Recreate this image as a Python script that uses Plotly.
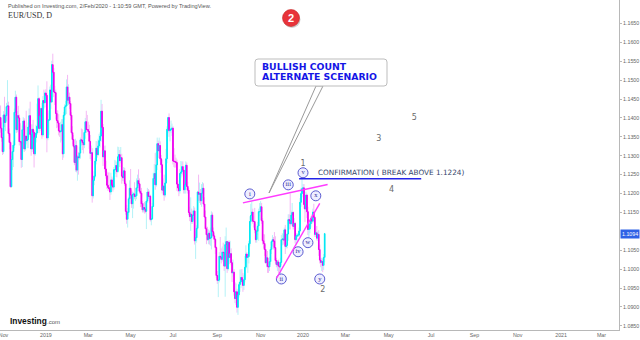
import numpy as np
import pandas as pd
import plotly.graph_objects as go

# EUR/USD daily bars from 29 Oct 2018 to 31 Jan 2020, quoted in pips (price x 10000)
opens = [
    11401, 11373, 11348,
    11311, 11408, 11388, 11406, 11430, 11432, 11359, 11335, 11218, 11290, 11311, 11328, 11415, 11455, 11369, 11406, 11400, 11337, 11337, 11290, 11369, 11392,
    11318, 11352, 11340, 11343, 11376, 11406, 11356, 11318, 11370, 11362, 11305, 11348, 11360, 11378, 11451, 11372, 11405, 11425, 11355, 11446, 11440,
    11466, 11460, 11347, 11393, 11395, 11474, 11442, 11541, 11521, 11469, 11467, 11412, 11393, 11387, 11366, 11363, 11365, 11382, 11305, 11407, 11429, 11432, 11482,
    11447, 11455, 11438, 11407, 11361, 11343, 11325, 11282, 11327, 11262, 11297, 11295, 11307, 11342, 11341, 11335, 11329, 11362, 11390, 11369,
    11369, 11364, 11338, 11306, 11308, 11194, 11235, 11246, 11286, 11320, 11303, 11326, 11340, 11352, 11418, 11375, 11297, 11313, 11265, 11247, 11222,
    11216, 11213, 11204, 11236, 11222, 11217, 11263, 11263, 11274, 11258, 11297, 11303, 11287, 11295, 11246, 11242, 11260, 11226, 11153, 11132, 11150, 11186,
    11214, 11196, 11173, 11198, 11199, 11192, 11194, 11215, 11234, 11226, 11206, 11201, 11173, 11157, 11163, 11159, 11153, 11180, 11204, 11192, 11193, 11131, 11133,
    11166, 11240, 11253, 11223, 11276, 11332, 11313, 11327, 11292, 11276, 11209, 11220, 11196, 11228, 11292, 11370, 11401, 11366, 11368, 11371,
    11373, 11286, 11285, 11284, 11282, 11225, 11215, 11207, 11253, 11257, 11271, 11262, 11210, 11223, 11275, 11219, 11209, 11150, 11139, 11145, 11126, 11142, 11154,
    11075, 11083, 11108, 11204, 11198, 11200, 11181, 11201, 11214, 11172, 11138, 11107, 11091, 11078, 11095, 11081, 11083, 11143, 11099, 11088, 11079, 11057,
    10983, 10970, 10971, 11034, 11032, 11026, 11045, 11044, 11008, 11065, 11073, 11001, 11071, 11031, 11041, 11017, 10990, 10992, 10940, 10922, 10940,
    10899, 10932, 10959, 10966, 10978, 10971, 10957, 10972, 11005, 11040, 11031, 11033, 11067, 11126, 11142, 11151, 11127, 11126, 11104, 11078, 11100, 11114, 11152,
    11152, 11165, 11128, 11075, 11068, 11052, 11017, 11030, 11007, 11006, 11020, 11052, 11073, 11078, 11074, 11057, 11023, 11012, 11019, 11008, 11006,
    11018, 11078, 11080, 11077, 11104, 11060, 11063, 11093, 11131, 11129, 11120, 11143, 11150, 11113, 11121, 11078, 11087, 11090, 11090, 11101, 11177, 11200,
    11213, 11215, 11171, 11159, 11196, 11152, 11105, 11106, 11120, 11134, 11127, 11151, 11137, 11092, 11096, 11082, 11092, 11052, 11024, 11018, 11020, 11010, 11031,
]
highs = [
    11433, 11388, 11360,
    11418, 11456, 11412, 11440, 11500, 11443, 11372, 11340, 11300, 11328, 11340, 11425, 11472, 11462, 11418, 11432, 11409, 11386, 11340, 11380, 11402, 11399,
    11380, 11419, 11360, 11388, 11425, 11443, 11383, 11383, 11395, 11368, 11350, 11382, 11438, 11486, 11455, 11420, 11430, 11440, 11458, 11475, 11470,
    11476, 11497, 11413, 11420, 11483, 11488, 11551, 11570, 11532, 11485, 11475, 11420, 11420, 11410, 11380, 11390, 11397, 11397, 11416, 11436, 11445, 11502, 11514,
    11489, 11467, 11445, 11415, 11378, 11355, 11330, 11345, 11340, 11302, 11310, 11324, 11348, 11372, 11370, 11359, 11368, 11400, 11419, 11408,
    11390, 11382, 11355, 11327, 11320, 11248, 11259, 11295, 11339, 11338, 11345, 11358, 11362, 11448, 11437, 11384, 11325, 11327, 11287, 11258, 11255,
    11256, 11225, 11255, 11245, 11240, 11270, 11289, 11287, 11284, 11324, 11323, 11315, 11323, 11305, 11257, 11270, 11268, 11232, 11170, 11162, 11191, 11235,
    11265, 11209, 11205, 11203, 11230, 11215, 11240, 11250, 11264, 11240, 11225, 11215, 11180, 11175, 11178, 11175, 11185, 11215, 11212, 11208, 11197, 11145, 11175,
    11255, 11278, 11307, 11310, 11348, 11340, 11348, 11338, 11302, 11290, 11240, 11250, 11235, 11318, 11378, 11403, 11412, 11380, 11393, 11385,
    11378, 11320, 11303, 11295, 11290, 11235, 11225, 11265, 11286, 11285, 11285, 11273, 11232, 11285, 11282, 11231, 11215, 11165, 11190, 11160, 11155, 11167, 11163,
    11100, 11116, 11207, 11250, 11229, 11212, 11225, 11230, 11227, 11190, 11155, 11112, 11112, 11105, 11102, 11110, 11153, 11150, 11110, 11095, 11082, 11060,
    10995, 10986, 11045, 11085, 11055, 11060, 11070, 11055, 11087, 11110, 11075, 11075, 11076, 11075, 11055, 11025, 11025, 11000, 10965, 10962, 10948,
    10943, 10965, 10999, 10999, 11000, 10990, 10985, 11035, 11063, 11045, 11040, 11075, 11140, 11173, 11179, 11160, 11140, 11162, 11120, 11110, 11125, 11160, 11175,
    11180, 11175, 11135, 11093, 11092, 11065, 11038, 11048, 11020, 11032, 11058, 11075, 11090, 11085, 11098, 11087, 11030, 11024, 11025, 11018, 11030,
    11090, 11095, 11092, 11110, 11117, 11072, 11095, 11145, 11145, 11200, 11155, 11175, 11153, 11135, 11125, 11095, 11095, 11095, 11110, 11188, 11215, 11239,
    11225, 11225, 11180, 11205, 11200, 11165, 11112, 11125, 11140, 11145, 11160, 11173, 11140, 11103, 11114, 11100, 11103, 11065, 11030, 11030, 11028, 11040, 11096,
]
lows = [
    11361, 11337, 11302,
    11305, 11376, 11365, 11392, 11410, 11353, 11317, 11216, 11216, 11262, 11270, 11320, 11395, 11360, 11362, 11390, 11327, 11330, 11268, 11270, 11351, 11310,
    11313, 11330, 11320, 11320, 11365, 11350, 11300, 11310, 11355, 11269, 11300, 11335, 11355, 11370, 11360, 11365, 11398, 11345, 11350, 11425, 11428,
    11450, 11309, 11341, 11355, 11393, 11424, 11440, 11486, 11455, 11434, 11396, 11373, 11375, 11354, 11350, 11335, 11340, 11289, 11295, 11395, 11410, 11410, 11440,
    11434, 11424, 11395, 11356, 11330, 11320, 11275, 11258, 11256, 11234, 11250, 11290, 11292, 11327, 11315, 11306, 11320, 11345, 11360, 11363,
    11354, 11318, 11291, 11286, 11176, 11187, 11222, 11240, 11277, 11295, 11300, 11320, 11322, 11337, 11358, 11273, 11285, 11256, 11239, 11212, 11207,
    11208, 11183, 11197, 11210, 11205, 11210, 11244, 11252, 11243, 11255, 11285, 11270, 11280, 11226, 11233, 11232, 11220, 11144, 11120, 11110, 11142, 11172,
    11188, 11162, 11135, 11160, 11185, 11180, 11185, 11205, 11220, 11200, 11164, 11165, 11150, 11150, 11147, 11148, 11106, 11175, 11185, 11174, 11126, 11116, 11130,
    11164, 11226, 11210, 11218, 11262, 11294, 11305, 11285, 11255, 11200, 11195, 11181, 11190, 11225, 11280, 11360, 11350, 11338, 11360, 11352,
    11277, 11270, 11268, 11270, 11207, 11205, 11193, 11200, 11240, 11245, 11250, 11200, 11200, 11200, 11210, 11200, 11143, 11127, 11101, 11120, 11120, 11130, 11065,
    11027, 11070, 11105, 11180, 11175, 11170, 11165, 11188, 11165, 11135, 11105, 11066, 11075, 11066, 11065, 11062, 11052, 11085, 11078, 11070, 11040, 10976,
    10961, 10926, 10965, 11025, 11015, 11020, 11030, 10995, 10927, 11050, 10990, 10996, 11013, 11020, 11010, 10966, 10980, 10930, 10910, 10905, 10885,
    10879, 10925, 10940, 10950, 10960, 10940, 10945, 10965, 10999, 11015, 10990, 11015, 11060, 11115, 11130, 11120, 11110, 11095, 11070, 11070, 11090, 11075, 11140,
    11130, 11120, 11065, 11055, 11035, 11015, 11005, 10990, 10990, 10995, 11012, 11040, 11060, 11052, 11052, 11015, 11005, 10995, 10990, 10995, 10981,
    11010, 11063, 11065, 11065, 11040, 11055, 11055, 11075, 11105, 11105, 11115, 11135, 11105, 11105, 11068, 11065, 11075, 11085, 11085, 11097, 11165, 11190,
    11205, 11160, 11125, 11150, 11135, 11090, 11085, 11095, 11110, 11120, 11122, 11125, 11085, 11085, 11076, 11075, 11035, 11015, 11005, 10995, 10992, 10998, 11018,
]
closes = [
    11373, 11348, 11311,
    11408, 11388, 11406, 11430, 11432, 11359, 11335, 11218, 11290, 11311, 11328, 11415, 11455, 11369, 11406, 11400, 11337, 11337, 11290, 11369, 11392, 11318,
    11352, 11340, 11343, 11376, 11406, 11356, 11318, 11370, 11362, 11305, 11348, 11360, 11378, 11451, 11372, 11405, 11425, 11355, 11446, 11440, 11466,
    11460, 11347, 11393, 11395, 11474, 11442, 11541, 11521, 11469, 11467, 11412, 11393, 11387, 11366, 11363, 11365, 11382, 11305, 11407, 11429, 11432, 11482, 11447,
    11455, 11438, 11407, 11361, 11343, 11325, 11282, 11327, 11262, 11297, 11295, 11307, 11342, 11341, 11335, 11329, 11362, 11390, 11369, 11369,
    11364, 11338, 11306, 11308, 11194, 11235, 11246, 11286, 11320, 11303, 11326, 11340, 11352, 11418, 11375, 11297, 11313, 11265, 11247, 11222, 11216,
    11213, 11204, 11236, 11222, 11217, 11263, 11263, 11274, 11258, 11297, 11303, 11287, 11295, 11246, 11242, 11260, 11226, 11153, 11132, 11150, 11186, 11214,
    11196, 11173, 11198, 11199, 11192, 11194, 11215, 11234, 11226, 11206, 11201, 11173, 11157, 11163, 11159, 11153, 11180, 11204, 11192, 11193, 11131, 11133, 11166,
    11240, 11253, 11223, 11276, 11332, 11313, 11327, 11292, 11276, 11209, 11220, 11196, 11228, 11292, 11370, 11401, 11366, 11368, 11371, 11373,
    11286, 11285, 11284, 11282, 11225, 11215, 11207, 11253, 11257, 11271, 11262, 11210, 11223, 11275, 11219, 11209, 11150, 11139, 11145, 11126, 11142, 11154, 11075,
    11083, 11108, 11204, 11198, 11200, 11181, 11201, 11214, 11172, 11138, 11107, 11091, 11078, 11095, 11081, 11083, 11143, 11099, 11088, 11079, 11057, 10983,
    10970, 10971, 11034, 11032, 11026, 11045, 11044, 11008, 11065, 11073, 11001, 11071, 11031, 11041, 11017, 10990, 10992, 10940, 10922, 10940, 10899,
    10932, 10959, 10966, 10978, 10971, 10957, 10972, 11005, 11040, 11031, 11033, 11067, 11126, 11142, 11151, 11127, 11126, 11104, 11078, 11100, 11114, 11152, 11152,
    11165, 11128, 11075, 11068, 11052, 11017, 11030, 11007, 11006, 11020, 11052, 11073, 11078, 11074, 11057, 11023, 11012, 11019, 11008, 11006, 11018,
    11078, 11080, 11077, 11104, 11060, 11063, 11093, 11131, 11129, 11120, 11143, 11150, 11113, 11121, 11078, 11087, 11090, 11090, 11101, 11177, 11200, 11213,
    11215, 11171, 11159, 11196, 11152, 11105, 11106, 11120, 11134, 11127, 11151, 11137, 11092, 11096, 11082, 11092, 11052, 11024, 11018, 11020, 11010, 11031, 11094,
]

# bottom axis labels
tick_dates = ["2018-11-01", "2019-01-01", "2019-03-01", "2019-05-01", "2019-07-01", "2019-09-02",
              "2019-11-01", "2020-01-01", "2020-03-02", "2020-05-01", "2020-07-01", "2020-09-01",
              "2020-11-02", "2021-01-01", "2021-03-01"]
tick_text = ["Nov", "2019", "Mar", "May", "Jul", "Sep", "Nov", "2020", "Mar", "May", "Jul", "Sep",
             "Nov", "2021", "Mar"]

# price scale labels (1.1100 sits under the last-price tag)
price_ticks = [1.0850, 1.0900, 1.0950, 1.1000, 1.1050, 1.1150, 1.1200, 1.1250, 1.1300,
               1.1350, 1.1400, 1.1450, 1.1500, 1.1550, 1.1600, 1.1650]

# Elliott wave labels: circled minor degree and plain intermediate degree
minor_labels = ["i", "ii", "iii", "iv", "v", "w", "x", "y"]
minor_dates = ["2019-10-17", "2019-12-02", "2019-12-11", "2019-12-25", "2020-01-01",
               "2020-01-08", "2020-01-20", "2020-01-24"]
minor_prices = [1.1199, 1.0974, 1.1223, 1.1046, 1.1255, 1.1070, 1.1194, 1.0974]
major_labels = ["1", "2", "3", "4", "5"]
major_dates = ["2020-01-01", "2020-01-29", "2020-04-17", "2020-05-06", "2020-06-08"]
major_prices = [1.1279, 1.0945, 1.1345, 1.1210, 1.1400]

# trendlines drawn on the chart: (start date, start price, end date, end price)
upper_line = ("2019-10-08", 1.11754, "2020-02-05", 1.12238)
lower_line = ("2019-11-25", 1.09757, "2020-01-24", 1.11741)
break_level = 1.1224
break_line = ("2019-12-26", 1.1239, "2020-06-17", 1.1239)
break_text_pos = ("2020-01-20", 1.1255)

o = np.array(opens) / 1e4
h = np.array(highs) / 1e4
l = np.array(lows) / 1e4
c = np.array(closes) / 1e4
dates = pd.bdate_range("2018-10-29", periods=len(c))

UP, DOWN = "#00E8F4", "#F000F0"
UP_WICK, DOWN_WICK = "#B4F2F7", "#F4B8F4"

fig = go.Figure()
# full high-low range in pale tones
fig.add_trace(go.Candlestick(
    x=dates, open=o, high=h, low=l, close=c,
    increasing=dict(line=dict(color=UP_WICK, width=1), fillcolor=UP_WICK),
    decreasing=dict(line=dict(color=DOWN_WICK, width=1), fillcolor=DOWN_WICK),
    whiskerwidth=0, hoverinfo="skip", showlegend=False))
# open-close bodies in strong tones
fig.add_trace(go.Candlestick(
    x=dates, open=o, high=np.maximum(o, c), low=np.minimum(o, c), close=c,
    increasing=dict(line=dict(color=UP, width=1), fillcolor=UP),
    decreasing=dict(line=dict(color=DOWN, width=1), fillcolor=DOWN),
    whiskerwidth=0, hoverinfo="skip", showlegend=False))

# circled wave labels
fig.add_trace(go.Scatter(
    x=minor_dates, y=minor_prices, mode="markers+text", text=minor_labels,
    marker=dict(size=10, color="#EEEEFF", line=dict(color="#5B5BD0", width=1)),
    textfont=dict(family="Liberation Serif", size=6.5, color="#2E2E9A"),
    textposition="middle center", hoverinfo="skip", showlegend=False))
fig.add_trace(go.Scatter(
    x=major_dates, y=major_prices, mode="text", text=major_labels,
    textfont=dict(family="DejaVu Sans", size=8, color="#6A6A6A"),
    textposition="middle center", hoverinfo="skip", showlegend=False))

PW, PH = 619.0, 330.0


def px(x):
    return x / PW


def py(y):
    return 1 - y / PH


shapes = []
for (x0, y0, x1, y1), col, w in [(upper_line, "#FF3CFF", 1.4), (lower_line, "#FF3CFF", 1.4),
                                  (break_line, "#2424E8", 1.4)]:
    shapes.append(dict(type="line", xref="x", yref="y", x0=x0, y0=y0, x1=x1, y1=y1,
                       line=dict(color=col, width=w)))

# callout pointer and rounded box
shapes.append(dict(type="path", xref="paper", yref="paper",
                   path=f"M {px(316)},{py(86)} L {px(269)},{py(193)} L {px(323)},{py(86)} Z",
                   fillcolor="white", line=dict(color="#9A9A9A", width=1)))
bx0, bx1, by0, by1, r = 255, 387, 59, 86, 3
box_path = (f"M {px(bx0 + r)},{py(by0)} L {px(bx1 - r)},{py(by0)} "
            f"Q {px(bx1)},{py(by0)} {px(bx1)},{py(by0 + r)} L {px(bx1)},{py(by1 - r)} "
            f"Q {px(bx1)},{py(by1)} {px(bx1 - r)},{py(by1)} L {px(bx0 + r)},{py(by1)} "
            f"Q {px(bx0)},{py(by1)} {px(bx0)},{py(by1 - r)} L {px(bx0)},{py(by0 + r)} "
            f"Q {px(bx0)},{py(by0)} {px(bx0 + r)},{py(by0)} Z")
shapes.append(dict(type="path", xref="paper", yref="paper", path=box_path,
                   fillcolor="white", line=dict(color="#BDBDBD", width=1)))

# red numbered badge with a soft shadow
shapes.append(dict(type="circle", xref="paper", yref="paper",
                   x0=px(283.5), x1=px(300.5), y0=py(11), y1=py(28),
                   fillcolor="rgba(0,0,0,0.18)", line=dict(width=0)))
shapes.append(dict(type="circle", xref="paper", yref="paper",
                   x0=px(282.5), x1=px(299.5), y0=py(9.5), y1=py(26.5),
                   fillcolor="#E8343A", line=dict(color="#C62828", width=0.6)))

annotations = [
    dict(xref="paper", yref="paper", x=px(6), y=py(6), xanchor="left", yanchor="middle",
         text="Published on Investing.com, 2/Feb/2020 - 1:10:59 GMT, Powered by TradingView.",
         showarrow=False, font=dict(family="Liberation Sans", size=5.6, color="#555555")),
    dict(xref="paper", yref="paper", x=px(6), y=py(16), xanchor="left", yanchor="middle",
         text="EUR/USD, D", showarrow=False,
         font=dict(family="Liberation Serif", size=8, color="#333333")),
    dict(xref="paper", yref="paper", x=px(291), y=py(18), xanchor="center", yanchor="middle",
         text="<b>2</b>", showarrow=False,
         font=dict(family="Liberation Sans", size=11, color="white")),
    dict(xref="paper", yref="paper", x=px(260), y=py(66.5), xanchor="left", yanchor="middle",
         text="<b>BULLISH COUNT</b>", showarrow=False,
         font=dict(family="DejaVu Sans", size=9.3, color="#1515E6")),
    dict(xref="paper", yref="paper", x=px(260), y=py(76), xanchor="left", yanchor="middle",
         text="<b>ALTERNATE SCENARIO</b>", showarrow=False,
         font=dict(family="DejaVu Sans", size=9.3, color="#1515E6")),
    dict(xref="x", yref="y", x=break_text_pos[0], y=break_text_pos[1],
         xanchor="left", yanchor="middle",
         text=f"CONFIRMATION ( BREAK ABOVE {break_level:.4f})", showarrow=False,
         font=dict(family="DejaVu Sans", size=7.3, color="#34446A")),
    dict(xref="paper", yref="paper", x=px(8), y=py(321), xanchor="left", yanchor="middle",
         text="<b>Investing</b>", showarrow=False,
         font=dict(family="Liberation Sans", size=8.4, color="#111111")),
    dict(xref="paper", yref="paper", x=px(44.5), y=py(322), xanchor="left", yanchor="middle",
         text=".com", showarrow=False,
         font=dict(family="Liberation Sans", size=6, color="#555555")),
    # last price tag on the price scale
    dict(xref="paper", yref="y", x=1, y=c[-1], xanchor="left", yanchor="middle", xshift=1,
         text=f"{c[-1]:.4f}", showarrow=False, bgcolor="#2F62E6", borderpad=1,
         font=dict(family="Liberation Sans", size=5.3, color="white")),
]

fig.update_layout(
    template="none",
    width=640, height=340,
    margin=dict(l=0, r=21, t=0, b=10, pad=0),
    paper_bgcolor="white", plot_bgcolor="white",
    font=dict(family="Liberation Sans", size=5.3, color="#666666"),
    showlegend=False, hovermode=False, boxgap=0.15,
    shapes=shapes, annotations=annotations,
    xaxis=dict(type="date", rangebreaks=[dict(bounds=["sat", "mon"])],
               range=["2018-10-26 09:36", "2021-03-24 19:00"],
               tickmode="array", tickvals=tick_dates, ticktext=tick_text,
               ticklabeloverflow="allow",
               showgrid=False, zeroline=False, showline=True, linecolor="#B8B8B8", linewidth=1,
               ticks="", tickfont=dict(size=5.3, color="#666666"), automargin=False,
               rangeslider=dict(visible=False), fixedrange=True),
    yaxis=dict(side="right", range=[1.0839, 1.1712],
               tickmode="array", tickvals=price_ticks, ticktext=[f"{v:.4f}" for v in price_ticks],
               showgrid=False, zeroline=False, showline=True, linecolor="#B8B8B8", linewidth=1,
               ticks="outside", ticklen=2, tickcolor="#B8B8B8",
               tickfont=dict(size=5.3, color="#666666"), automargin=False, fixedrange=True),
)

fig.write_html("out.html", config={"displayModeBar": False, "staticPlot": True})
